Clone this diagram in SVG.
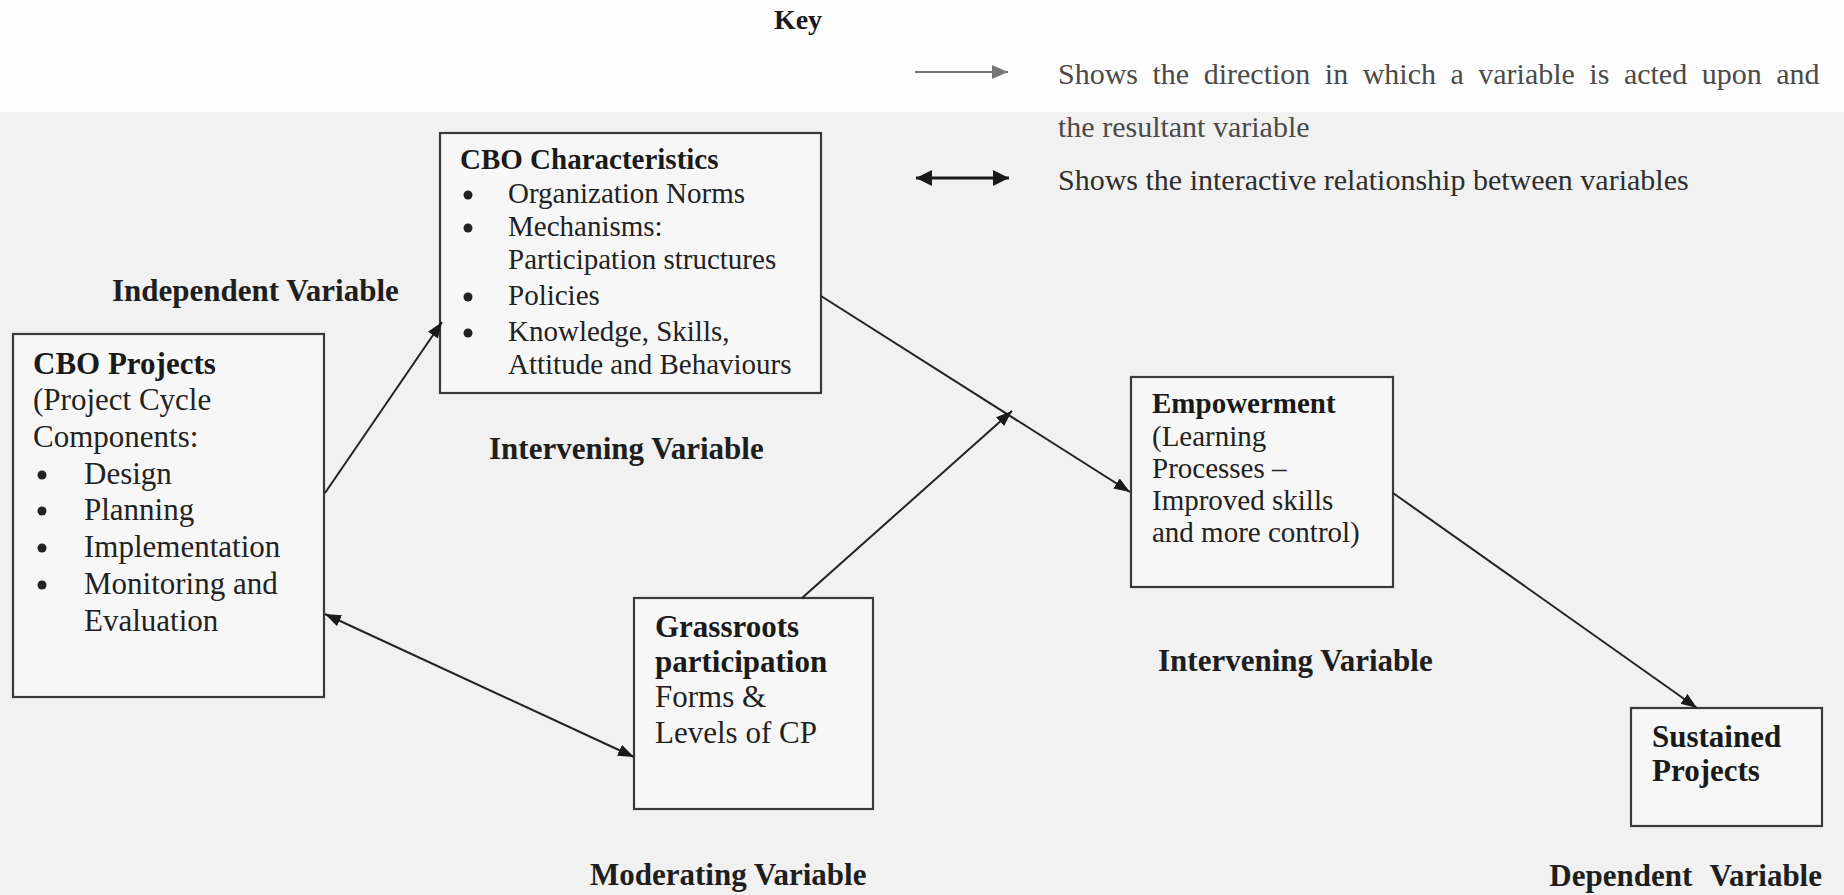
<svg xmlns="http://www.w3.org/2000/svg" width="1844" height="895" viewBox="0 0 1844 895">
<defs>
<style>
.bx{fill:#f7f7f7;stroke:#3a3a3a;stroke-width:2.2}
.t{font-family:"Liberation Serif","Times New Roman",serif;fill:#222}
.b{font-weight:bold;fill:#1a1a1a}
.f31{font-size:31px}
.f29{font-size:29px}
.f30{font-size:30px}
.lbl{font-family:"Liberation Serif","Times New Roman",serif;font-weight:bold;font-size:31px;fill:#1e1e1e}
.con{stroke:#222;stroke-width:2;fill:none}
.dot{fill:#222}
</style>
<marker id="ah" markerUnits="userSpaceOnUse" markerWidth="18" markerHeight="14" refX="16" refY="6" orient="auto-start-reverse" viewBox="0 0 18 14">
<path d="M0,0 L16,6 L0,12 Z" fill="#1a1a1a"/>
</marker>
<marker id="ahg" markerUnits="userSpaceOnUse" markerWidth="18" markerHeight="16" refX="16" refY="7" orient="auto" viewBox="0 0 18 16">
<path d="M0,0 L16,7 L0,14 Z" fill="#777"/>
</marker>
<marker id="ahk" markerUnits="userSpaceOnUse" markerWidth="18" markerHeight="18" refX="16" refY="8" orient="auto-start-reverse" viewBox="0 0 18 18">
<path d="M0,0 L16,8 L0,16 Z" fill="#1a1a1a"/>
</marker>
</defs>
<rect x="0" y="0" width="1844" height="895" fill="#f1f1f1"/>
<rect x="0" y="0" width="1844" height="112" fill="#fdfdfd"/>

<g id="key">
<text class="t b" x="798" y="29" font-size="28" text-anchor="middle">Key</text>
<line x1="915" y1="72" x2="1008" y2="72" stroke="#777" stroke-width="2" marker-end="url(#ahg)"/>
<text class="t f30" x="1058" y="84" fill="#4a4a4a" style="fill:#4a4a4a" word-spacing="7">Shows the direction in which a variable is acted upon and</text>
<text class="t f30" x="1058" y="137" style="fill:#4a4a4a">the resultant variable</text>
<line x1="916" y1="178" x2="1009" y2="178" stroke="#1a1a1a" stroke-width="3" marker-start="url(#ahk)" marker-end="url(#ahk)"/>
<text class="t f30" x="1058" y="190" style="fill:#2e2e2e">Shows the interactive relationship between variables</text>
</g>

<g id="labels">
<text class="lbl" x="112" y="301">Independent Variable</text>
<text class="lbl" x="489" y="459">Intervening Variable</text>
<text class="lbl" x="1158" y="671">Intervening Variable</text>
<text class="lbl" x="590" y="885">Moderating Variable</text>
<text class="lbl" x="1822" y="886" text-anchor="end" word-spacing="10">Dependent Variable</text>
</g>

<g id="cbo-projects">
<rect class="bx" x="13" y="334" width="311" height="363"/>
<text class="t f31 b" x="33" y="374">CBO Projects</text>
<text class="t f31" x="33" y="410">(Project Cycle</text>
<text class="t f31" x="33" y="447">Components:</text>
<circle class="dot" cx="42" cy="475" r="4.5"/>
<text class="t f31" x="84" y="484">Design</text>
<circle class="dot" cx="42" cy="511" r="4.5"/>
<text class="t f31" x="84" y="520">Planning</text>
<circle class="dot" cx="42" cy="548" r="4.5"/>
<text class="t f31" x="84" y="557">Implementation</text>
<circle class="dot" cx="42" cy="585" r="4.5"/>
<text class="t f31" x="84" y="594">Monitoring and</text>
<text class="t f31" x="84" y="631">Evaluation</text>
</g>

<g id="cbo-characteristics">
<rect class="bx" x="440" y="133" width="381" height="260"/>
<text class="t f29 b" x="460" y="169">CBO Characteristics</text>
<circle class="dot" cx="468" cy="195" r="4.5"/>
<text class="t f29" x="508" y="203">Organization Norms</text>
<circle class="dot" cx="468" cy="228" r="4.5"/>
<text class="t f29" x="508" y="236">Mechanisms:</text>
<text class="t f29" x="508" y="269">Participation structures</text>
<circle class="dot" cx="468" cy="297" r="4.5"/>
<text class="t f29" x="508" y="305">Policies</text>
<circle class="dot" cx="468" cy="333" r="4.5"/>
<text class="t f29" x="508" y="341">Knowledge, Skills,</text>
<text class="t f29" x="508" y="374">Attitude and Behaviours</text>
</g>

<g id="grassroots">
<rect class="bx" x="634" y="598" width="239" height="211"/>
<text class="t f31 b" x="655" y="637">Grassroots</text>
<text class="t f31 b" x="655" y="672">participation</text>
<text class="t f31" x="655" y="707">Forms &amp;</text>
<text class="t f31" x="655" y="743">Levels of CP</text>
</g>

<g id="empowerment">
<rect class="bx" x="1131" y="377" width="262" height="210"/>
<text class="t f29 b" x="1152" y="413">Empowerment</text>
<text class="t f29" x="1152" y="446">(Learning</text>
<text class="t f29" x="1152" y="478">Processes –</text>
<text class="t f29" x="1152" y="510">Improved skills</text>
<text class="t f29" x="1152" y="542">and more control)</text>
</g>

<g id="sustained">
<rect class="bx" x="1631" y="708" width="191" height="118"/>
<text class="t f31 b" x="1652" y="747">Sustained</text>
<text class="t f31 b" x="1652" y="781">Projects</text>
</g>

<g id="connectors">
<line class="con" x1="325" y1="493" x2="442" y2="322" marker-end="url(#ah)"/>
<line class="con" x1="821" y1="296" x2="1130" y2="492" marker-end="url(#ah)"/>
<line class="con" x1="802" y1="598" x2="1012" y2="411" marker-end="url(#ah)"/>
<line class="con" x1="325" y1="614" x2="634" y2="757" marker-start="url(#ah)" marker-end="url(#ah)"/>
<line class="con" x1="1393" y1="493" x2="1697" y2="708" marker-end="url(#ah)"/>
</g>
</svg>
